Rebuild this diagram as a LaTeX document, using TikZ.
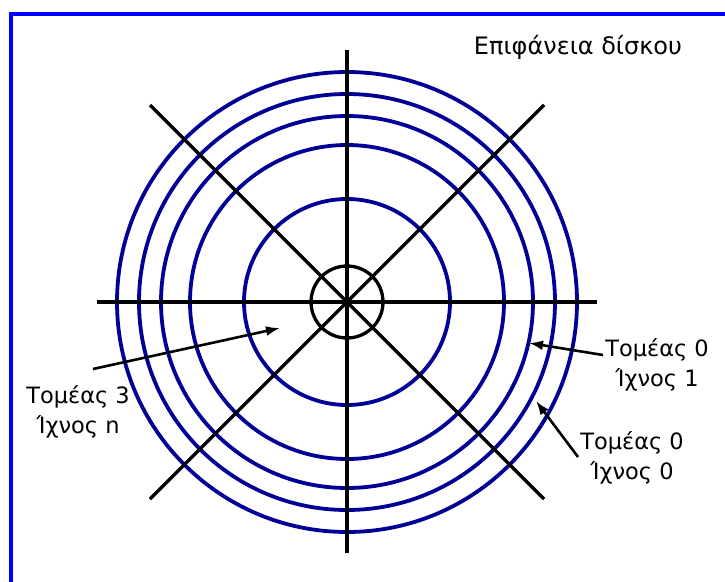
\documentclass[tikz,border=0pt]{standalone}
\usepackage{fontspec}
\setmainfont{DejaVu Sans}
\usetikzlibrary{arrows.meta, positioning, calc}
\usepackage{xcolor}
\definecolor{frameBlue}{RGB}{0,   0,   255}
\definecolor{ringBlue} {RGB}{0,   0,   150}

\begin{document}
\begin{tikzpicture}[x=1pt, y=-1pt,
    ring/.style={line width=3.8pt, ringBlue},
    spoke/.style={line width=3.3pt, black},
    pointer/.style={-{Latex[length=14pt, width=10pt]}, line width=2.6pt, black},
    lbl/.style={font=\fontsize{22.5}{30}\selectfont, align=center, inner sep=0pt}]
  \def\R{230}    % outer ring radius
  \def\D{197}    % diagonal half length

  % ---- Canvas and frame ----
  \useasboundingbox (0,0) rectangle (725,581);
  \clip (0,0) rectangle (725,581);
  \fill[white] (0,0) rectangle (725,581);
  \draw[line width=4pt, frameBlue] (10.5,13.7) rectangle (800,650);

  % ---- Centre of the disk ----
  \coordinate (c) at (347,302);

  % ---- Tracks (blue rings) ----
  \foreach \r in {103,157,186,208,\R}
    \draw[ring] (c) circle[radius=\r];

  % ---- Sector lines ----
  \draw[spoke] ($(c)+(-250,0)$) -- ($(c)+(250,0)$);
  \draw[spoke] ($(c)+(0,-252)$) -- ($(c)+(0,251)$);
  \draw[spoke] ($(c)+(-\D,-\D)$) -- ($(c)+(\D,\D)$);
  \draw[spoke] ($(c)+(-\D,\D)$) -- ($(c)+(\D,-\D)$);
  \draw[spoke] (c) circle[radius=36];

  % ---- Labels ----
  \node[lbl, font=\fontsize{24}{30}\selectfont] (surf) at (578,47) {Επιφάνεια δίσκου};
  \node[lbl] (s0t1) at (657,365) {Τομέας 0\\Ίχνος 1};
  \node[lbl] (s0t0) at (632,458) {Τομέας 0\\Ίχνος 0};
  \node[lbl] (s3tn) at (78,412) {Τομέας 3\\Ίχνος n};

  % ---- Pointers ----
  \coordinate (p1a) at (603,355);
  \coordinate (p1b) at (529,343);
  \coordinate (p2a) at (578,457);
  \coordinate (p2b) at (536,401);
  \coordinate (p3a) at (93,369);
  \coordinate (p3b) at (280,328);
  \draw[pointer] (p1a) -- (p1b);
  \draw[pointer] (p2a) -- (p2b);
  \draw[pointer] (p3a) -- (p3b);
\end{tikzpicture}
\end{document}
